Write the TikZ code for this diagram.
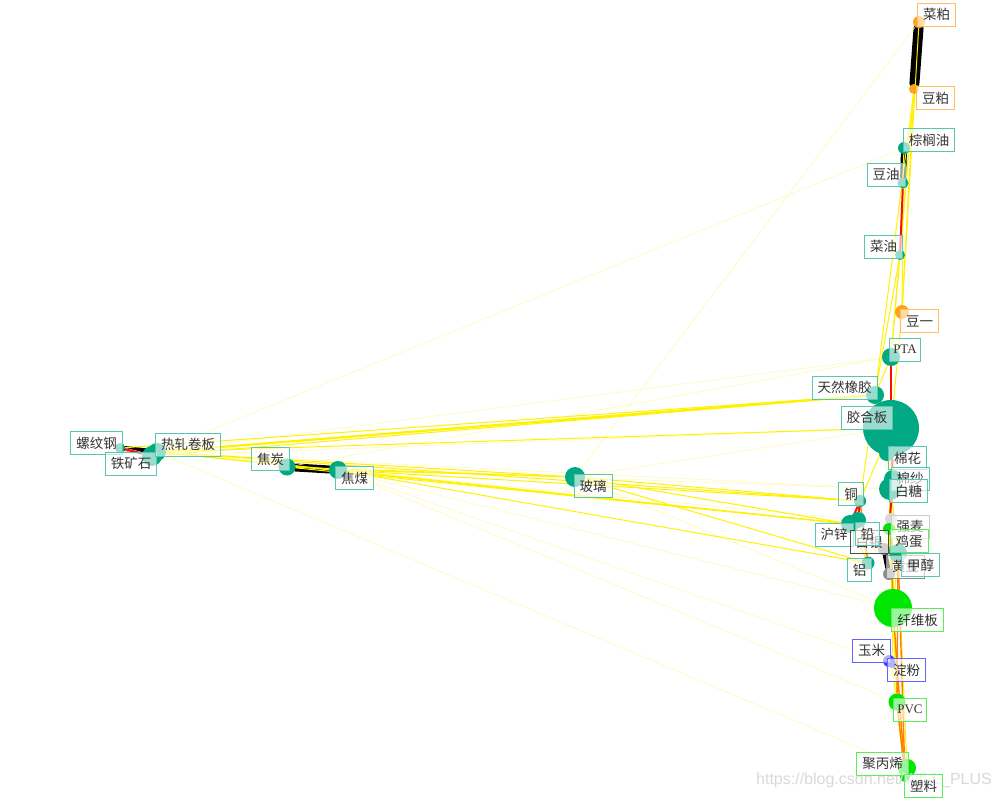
\documentclass[tikz,border=0pt]{standalone}
\usepackage{fontspec}
\setmainfont{Liberation Serif}
\newfontfamily\cjk{Noto Sans CJK SC}
\newfontfamily\wmfont{Liberation Sans}
\usetikzlibrary{backgrounds}
\definecolor{grpteal}{HTML}{00A884}
\definecolor{grporange}{HTML}{FFA31A}
\definecolor{grpgreen}{HTML}{00E600}
\definecolor{grpblue}{HTML}{3C3CFF}
\definecolor{grpgray}{HTML}{8C8C8C}
\definecolor{ink}{HTML}{333333}
\definecolor{wmark}{HTML}{D9D9D9}
\tikzset{
  vtx/.style={circle,draw=none,inner sep=0pt,minimum size=#1},
  tealvtx/.style={vtx=#1,fill=grpteal},
  orangevtx/.style={vtx=#1,fill=grporange},
  greenvtx/.style={vtx=#1,fill=grpgreen},
  bluevtx/.style={vtx=#1,fill=grpblue},
  grayvtx/.style={vtx=#1,fill=grpgray},
  tag/.style={rectangle,line width=.9pt,fill=white,fill opacity=.6,text opacity=1,
    inner xsep=5.5pt,inner ysep=0pt,minimum height=23pt,text=ink,
    font=\cjk\fontsize{13.5}{13.5}\selectfont},
  tealtag/.style={tag,draw=grpteal!65},
  orangetag/.style={tag,draw=grporange!70},
  greentag/.style={tag,draw=grpgreen!65},
  bluetag/.style={tag,draw=grpblue!80},
  graytag/.style={tag,draw=grpgray},
  strong/.style={draw=black,line cap=round},
  tight/.style={draw=red!90!orange,line width=2pt},
  mid/.style={draw=orange,line width=1.4pt},
  loose/.style={draw=yellow,line width=1pt},
  faint/.style={draw=yellow!35,line width=.5pt},
}
\begin{document}
\begin{tikzpicture}[x=1pt,y=-1pt]
\useasboundingbox (0,0) rectangle (1000,800);
% vertices
\node[orangevtx=12] (rmeal) at (919,22) {};
\node[orangevtx=10] (smeal) at (914,89) {};
\node[tealvtx=12] (palm) at (904,148) {};
\node[tealvtx=11] (soyoil) at (903,183) {};
\node[tealvtx=10] (rapeoil) at (900,255) {};
\node[orangevtx=14] (soyone) at (902,312) {};
\node[tealvtx=18] (pta) at (891,357) {};
\node[tealvtx=18] (rubber) at (875,395) {};
\node[tealvtx=56] (plywood) at (891,428) {};
\node[tealvtx=16] (cotton) at (887,453) {};
\node[tealvtx=18] (yarn) at (893,479) {};
\node[tealvtx=22] (sugar) at (890,489) {};
\node[tealvtx=12] (copper) at (860,501) {};
\node[tealvtx=18] (zinc) at (850,524) {};
\node[tealvtx=16] (lead) at (858,520) {};
\node[vtx=12,fill=black!15] (wheat) at (891,519) {};
\node[greenvtx=12] (egg) at (889,529) {};
\node[grayvtx=12] (silver) at (884,549) {};
\node[tealvtx=18] (methanol) at (898,553) {};
\node[grayvtx=12] (gold) at (889,574) {};
\node[tealvtx=13] (alu) at (868,563) {};
\node[greenvtx=38] (fiber) at (893,608) {};
\node[bluevtx=12] (corn) at (889,661) {};
\node[bluevtx=8] (starch) at (892,664) {};
\node[greenvtx=17] (pvc) at (897,702) {};
\node[greenvtx=18] (pp) at (907,768) {};
\node[greenvtx=10] (plastic) at (905,777) {};
\node[tealvtx=10] (rebar) at (120,448) {};
\node[tealvtx=20] (ore) at (152,456) {};
\node[tealvtx=18] (hrc) at (157,452) {};
\node[tealvtx=17] (coke) at (287,467) {};
\node[tealvtx=18] (coal) at (338,470) {};
\node[tealvtx=20] (glass) at (575,477) {};
% watermark
\node[text=wmark,font=\wmfont\fontsize{16}{16}\selectfont] (mark) at (874,780) {https://blog.csdn.net/WILL\_PLUS};
% labels
\node[orangetag] (rmealtag) at (936.5,14.5) {菜粕};
\node[orangetag] (smealtag) at (935.5,98) {豆粕};
\node[tealtag] (palmtag) at (929,140) {棕榈油};
\node[tealtag] (soyoiltag) at (886,174.5) {豆油};
\node[tealtag] (rapeoiltag) at (883.5,246.5) {菜油};
\node[orangetag] (soyonetag) at (919.5,321) {豆一};
\node[tealtag,font=\rmfamily\fontsize{13}{13}\selectfont,inner xsep=4pt] (ptatag) at (905,349.5) {PTA};
\node[tealtag] (rubbertag) at (844.5,387.5) {天然橡胶};
\node[tealtag] (plywoodtag) at (867,417.5) {胶合板};
\node[tealtag] (cottontag) at (907.5,458) {棉花};
\node[tealtag] (yarntag) at (910,478.5) {棉纱};
\node[tealtag] (sugartag) at (908.5,491) {白糖};
\node[tealtag] (coppertag) at (851,494) {铜};
\node[tealtag] (zinctag) at (834,534.5) {沪锌};
\node[tag,draw=black!70] (silvertag) at (869,542) {白银};
\node[tealtag] (leadtag) at (867.5,534) {铅};
\node[tag,draw=black!20] (wheattag) at (910,526.5) {强麦};
\node[greentag] (eggtag) at (909,541) {鸡蛋};
\node[tag,draw=black!45] (goldtag) at (905.5,566.5) {黄金};
\node[tealtag] (methanoltag) at (920.5,565) {甲醇};
\node[tealtag] (alutag) at (859.5,570) {铝};
\node[greentag] (fibertag) at (917.5,620) {纤维板};
\node[bluetag] (corntag) at (871.5,650.5) {玉米};
\node[bluetag] (starchtag) at (906.5,670) {淀粉};
\node[greentag,font=\rmfamily\fontsize{13}{13}\selectfont,inner xsep=4pt] (pvctag) at (910,709.5) {PVC};
\node[greentag] (pptag) at (882.5,763.5) {聚丙烯};
\node[greentag] (plastictag) at (923.5,786) {塑料};
\node[tealtag] (rebartag) at (96.5,443) {螺纹钢};
\node[tealtag] (oretag) at (131,463.5) {铁矿石};
\node[tealtag] (hrctag) at (188,444.5) {热轧卷板};
\node[tealtag] (coketag) at (270.5,459) {焦炭};
\node[tealtag] (coaltag) at (354.5,478) {焦煤};
\node[tealtag] (glasstag) at (593,486) {玻璃};
% edges
\begin{scope}[on background layer]
\fill[white] (0,0) rectangle (1000,800);
\draw[strong,line width=10pt] (rmeal) -- (smeal);
\draw[strong,line width=6pt] (palm) -- (soyoil);
\draw[strong,line width=5pt] (rebar) -- (hrc);
\draw[strong,line width=8pt] (coke) -- (coal);
\draw[strong,line width=5pt] (silver) -- (gold);
\draw[strong,line width=2pt] (corn) -- (starch);
\draw[draw=red!35,line width=3pt] (rebar) -- (ore);
\foreach \a/\b in {hrc/pta,hrc/pp,ore/plywood,coal/fiber,coal/pvc,hrc/palm,
    glass/rmeal,glass/plywood,coke/sugar,hrc/sugar,coal/lead,coke/pta,
    coal/starch,glass/fiber}
  \draw[faint] (\a) -- (\b);
\foreach \a/\b in {hrc/plywood,hrc/copper,hrc/zinc,hrc/coal,hrc/glass,
    ore/rubber,rebar/rubber,coke/zinc,coke/glass,coal/copper,coal/zinc,
    coal/alu,coal/glass,glass/copper,glass/zinc,glass/alu}
  \draw[loose] (\a) -- (\b);
\draw[loose,line width=2.2pt] (hrc) -- (rubber);
\foreach \a/\b in {smeal/rapeoil,smeal/soyone,smeal/pta,rmeal/soyone,
    palm/rapeoil,soyoil/soyone,rapeoil/pta,rapeoil/rubber,soyone/plywood,
    pta/rubber,pta/sugar,rubber/copper,plywood/copper,plywood/fiber,
    cotton/methanol,sugar/egg,sugar/pvc,copper/lead,zinc/alu,lead/alu,
    methanol/fiber,fiber/pvc,fiber/starch,pvc/pp,methanol/pp,starch/plastic,
    egg/pvc,smeal/rubber}
  \draw[loose] (\a) -- (\b);
\foreach \a/\b in {copper/alu,methanol/pvc,pvc/plastic,methanol/plastic,
    fiber/plastic,wheat/fiber,zinc/lead}
  \draw[mid] (\a) -- (\b);
\foreach \a/\b in {soyoil/rapeoil,pta/plywood,plywood/yarn,yarn/egg,
    copper/zinc,copper/lead,rebar/ore}
  \draw[tight] (\a) -- (\b);
\end{scope}
\end{tikzpicture}
\end{document}
